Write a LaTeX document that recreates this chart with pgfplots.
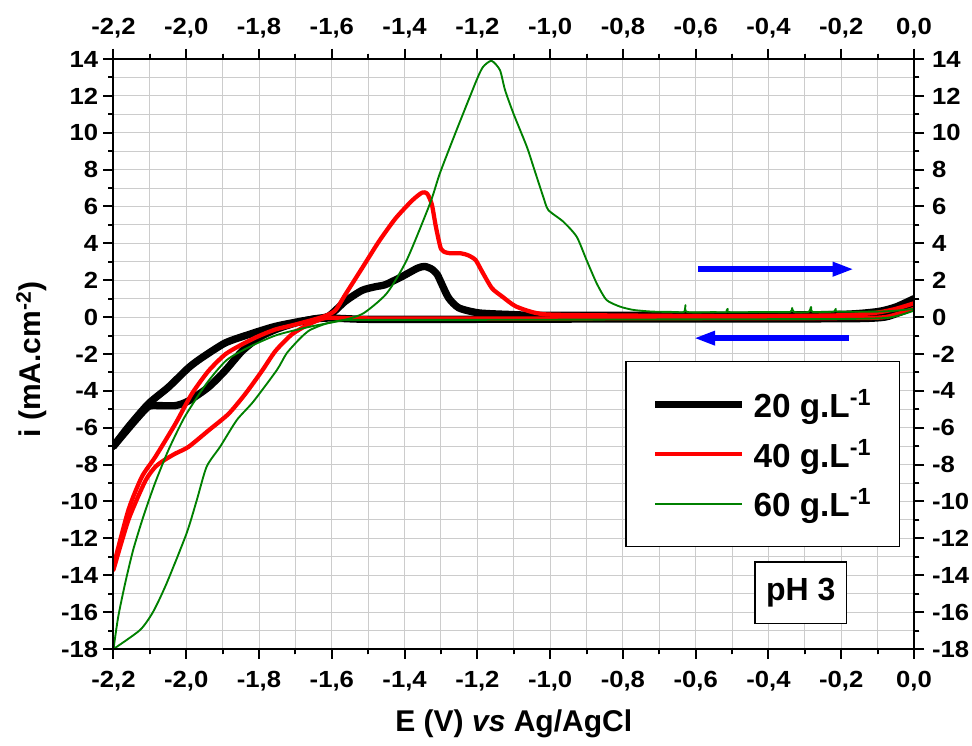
\documentclass[border=0pt]{standalone}
\usepackage{fontspec}
\setmainfont{Liberation Sans}
\newfontfamily\tickfont[FakeStretch=1.1]{Liberation Sans}
\usepackage{pgfplots}
\pgfplotsset{compat=1.18}
\usetikzlibrary{arrows.meta}
\definecolor{ogreen}{rgb}{0,0.5,0}
\pgfplotsset{cvbase/.style={
  scale only axis, width=600.375pt, height=442.5pt,
  xmin=-2.2, xmax=0, ymin=-18, ymax=14,
  xtick={-2.2,-2,-1.8,-1.6,-1.4,-1.2,-1,-0.8,-0.6,-0.4,-0.2,0},
  minor x tick num=1,
  ytick={-18,-16,-14,-12,-10,-8,-6,-4,-2,0,2,4,6,8,10,12,14},
  minor y tick num=1,
  tick align=outside,
  major tick length=7.5pt, minor tick length=4pt,
  tick style={black, line width=1.5pt},
  axis line style={black, line width=1.5pt},
  /pgf/number format/assume math mode=true,
  xticklabel style={font=\tickfont\bfseries\fontsize{17.5}{19}\selectfont,
    /pgf/number format/fixed, /pgf/number format/fixed zerofill, /pgf/number format/precision=1, /pgf/number format/use comma},
  yticklabel style={font=\tickfont\bfseries\fontsize{17.5}{19}\selectfont,
    /pgf/number format/fixed, /pgf/number format/precision=0},
  scaled ticks=false,
}}
\begin{document}
\begin{tikzpicture}
\path[use as bounding box] (-85.125pt,-72.75pt) rectangle (643.875pt,486.75pt);
\begin{axis}[cvbase,
  xticklabel pos=lower, yticklabel pos=left,
  xticklabel style={yshift=-5.5pt},
  yticklabel style={xshift=-0.5pt},
  grid=both,
  major grid style={line width=0.75pt, black!20},
  minor grid style={line width=0.75pt, black!20},
  xlabel={E (V) \textit{vs} Ag/AgCl},
  xlabel style={font=\bfseries\fontsize{22.5}{26}\selectfont, at={([yshift=-62.25pt]axis description cs:0.5,0)}, anchor=base},
  ylabel={i (mA.cm\textsuperscript{-2})},
  ylabel style={font=\bfseries\fontsize{22.5}{26}\selectfont, at={([xshift=-54.4pt,yshift=-4pt]axis description cs:0,0.5)}, anchor=base},
  legend style={at={(axis cs:-0.793,-2.38)}, anchor=north west, draw=black, line width=1.1pt, fill=white,
    font=\bfseries\fontsize{25}{29}\selectfont, inner xsep=19pt, inner ysep=19pt, row sep=10.5pt, column sep=4pt},
  legend cell align=left,
  legend image code/.code={\draw[#1, line cap=butt] (0pt,0pt) -- (65pt,0pt);},
]
% 20 g/L
\addplot[black, line width=5.5pt, smooth, tension=0.4, line cap=round, line join=round] coordinates {
(0.0,0.55) (-0.04,0.25) (-0.08,0.0) (-0.15,-0.08) (-0.4,-0.1) (-0.8,-0.1) (-1.2,-0.12) (-1.5,-0.12) (-1.609,-0.05) (-1.664,-0.15) (-1.755,-0.5) (-1.829,-0.95) (-1.893,-1.4) (-1.957,-2.2) (-1.994,-2.75) (-2.049,-3.8) (-2.104,-4.7) (-2.159,-5.95) (-2.2,-7.0)};
\addlegendentry{20 g.L\textsuperscript{-1}}
\addplot[black, line width=5.5pt, smooth, tension=0.4, line cap=round, line join=round, forget plot] coordinates {
(-2.2,-7.0) (-2.14,-5.6) (-2.104,-4.85) (-2.076,-4.8) (-2.030,-4.8) (-1.994,-4.55) (-1.939,-3.8) (-1.893,-2.9) (-1.847,-1.85) (-1.801,-1.12) (-1.755,-0.68) (-1.700,-0.32) (-1.650,-0.1) (-1.609,0.05) (-1.563,0.86) (-1.517,1.45) (-1.480,1.65) (-1.453,1.76) (-1.407,2.2) (-1.365,2.65) (-1.345,2.75) (-1.325,2.6) (-1.310,2.3) (-1.297,1.76) (-1.279,1.04) (-1.251,0.5) (-1.196,0.23) (-1.105,0.14) (-1.013,0.1) (-0.5,0.1) (-0.2,0.15) (-0.1,0.3) (-0.05,0.55) (0.0,1.0)};
% 40 g/L
\addplot[red, line width=3.2pt, smooth, tension=0.4, line cap=round, line join=round] coordinates {
(0.0,0.45) (-0.04,0.2) (-0.08,0.0) (-0.15,-0.05) (-0.5,-0.06) (-1.0,-0.07) (-1.4,-0.08) (-1.55,-0.06) (-1.618,-0.05) (-1.664,-0.4) (-1.710,-0.94) (-1.755,-1.84) (-1.792,-2.92) (-1.838,-4.17) (-1.884,-5.25) (-1.939,-6.15) (-1.994,-7.04) (-2.030,-7.40) (-2.060,-7.75) (-2.085,-8.12) (-2.113,-8.9) (-2.159,-11.0) (-2.2,-13.7)};
\addlegendentry{40 g.L\textsuperscript{-1}}
\addplot[red, line width=3.2pt, smooth, tension=0.4, line cap=round, line join=round, forget plot] coordinates {
(-2.2,-13.5) (-2.159,-10.46) (-2.122,-8.66) (-2.085,-7.58) (-2.030,-5.79) (-1.985,-4.17) (-1.939,-2.92) (-1.893,-2.02) (-1.847,-1.48) (-1.801,-1.03) (-1.755,-0.67) (-1.700,-0.40) (-1.627,0.0) (-1.591,0.35) (-1.563,1.22) (-1.517,2.65) (-1.471,4.09) (-1.425,5.35) (-1.379,6.33) (-1.352,6.75) (-1.338,6.7) (-1.325,6.1) (-1.314,4.9) (-1.300,3.7) (-1.285,3.5) (-1.270,3.46) (-1.245,3.46) (-1.225,3.35) (-1.205,3.10) (-1.187,2.47) (-1.160,1.57) (-1.132,1.12) (-1.095,0.59) (-1.040,0.23) (-0.968,0.12) (-0.5,0.05) (-0.2,0.1) (-0.1,0.25) (-0.05,0.45) (0.0,0.75)};
% 60 g/L
\addplot[ogreen, line width=1.4pt, smooth, tension=0.4, line cap=round, line join=round] coordinates {
(0.0,0.35) (-0.04,0.1) (-0.08,-0.05) (-0.2,-0.1) (-0.6,-0.12) (-1.0,-0.14) (-1.3,-0.15) (-1.45,-0.15) (-1.52,-0.15) (-1.568,-0.16) (-1.614,-0.34) (-1.660,-0.70) (-1.687,-1.15) (-1.724,-1.96) (-1.751,-2.87) (-1.816,-4.59) (-1.861,-5.58) (-1.907,-7.03) (-1.944,-8.11) (-1.971,-9.92) (-1.999,-11.72) (-2.054,-14.44) (-2.091,-15.98) (-2.127,-16.97) (-2.2,-18.0)};
\addlegendentry{60 g.L\textsuperscript{-1}}
\addplot[ogreen, line width=1.4pt, smooth, tension=0.4, line cap=round, line join=round, forget plot] coordinates {
(-2.2,-18.0) (-2.187,-16.25) (-2.168,-14.44) (-2.146,-12.63) (-2.118,-10.82) (-2.086,-9.01) (-2.049,-7.21) (-2.004,-5.40) (-1.944,-3.59) (-1.889,-2.33) (-1.825,-1.60) (-1.751,-0.97) (-1.660,-0.52) (-1.568,-0.16) (-1.513,0.21) (-1.449,1.29) (-1.394,3.10) (-1.330,6.17) (-1.303,7.80) (-1.257,10.15) (-1.202,12.86) (-1.184,13.58) (-1.161,13.9) (-1.138,13.40) (-1.124,12.32) (-1.101,11.05) (-1.064,9.24) (-1.046,8.16) (-1.019,6.53) (-1.005,5.81) (-0.964,5.18) (-0.927,4.36) (-0.900,3.10) (-0.872,1.83) (-0.845,0.93) (-0.808,0.57) (-0.771,0.39) (-0.72,0.3) (-0.66,0.28) (-0.632,0.28) (-0.628,0.65) (-0.624,0.28) (-0.55,0.27) (-0.515,0.27) (-0.512,0.45) (-0.509,0.27) (-0.40,0.28) (-0.34,0.28) (-0.335,0.5) (-0.33,0.28) (-0.29,0.28) (-0.283,0.55) (-0.278,0.28) (-0.22,0.3) (-0.215,0.45) (-0.21,0.3) (-0.1,0.3) (-0.05,0.35) (0.0,0.45)};
\draw[blue, line width=4.5pt, -{Triangle[length=16pt,width=10pt]}] (axis cs:-0.593,2.60) -- (axis cs:-0.165,2.60);
\draw[blue, line width=4.5pt, -{Triangle[length=16pt,width=10pt]}] (axis cs:-0.179,-1.14) -- (axis cs:-0.605,-1.14);
\node[draw, line width=1.1pt, fill=white, minimum width=68.8pt, minimum height=46.2pt, inner sep=0pt, font=\bfseries\fontsize{24}{28}\selectfont] at (axis cs:-0.311,-14.94) {pH 3};
\end{axis}
\begin{axis}[cvbase,
  xticklabel pos=upper, yticklabel pos=right,
  xticklabel style={yshift=5pt},
  yticklabel style={xshift=2.5pt},
]
\end{axis}
\end{tikzpicture}
\end{document}
